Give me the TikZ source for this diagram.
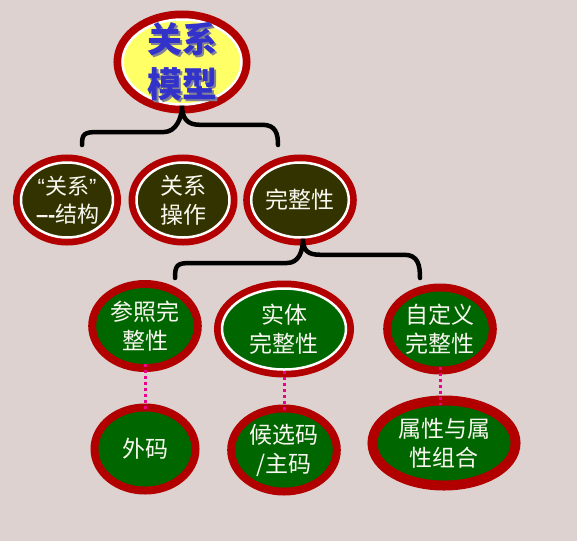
\documentclass[tikz,border=0pt]{standalone}
\usepackage{fontspec}
\newfontfamily\cjk{Noto Sans CJK SC}
\newfontfamily\latin{Liberation Sans}
\usetikzlibrary{shapes.geometric,calc}
\definecolor{bgcol}{RGB}{221,210,208}
\definecolor{ringred}{RGB}{178,0,0}
\definecolor{olive}{RGB}{51,51,0}
\definecolor{leafgreen}{RGB}{0,102,0}
\definecolor{topyellow}{RGB}{255,255,102}
\definecolor{topblue}{RGB}{51,51,204}
\definecolor{topshadowcol}{RGB}{130,130,150}
\definecolor{offwhite}{RGB}{248,248,240}
\tikzset{
  ell/.style={ellipse, inner sep=0pt, align=center, text=offwhite,
    font=\cjk\fontsize{23}{29}\selectfont},
  ringw/.style={ell, draw=white, line width=2.5pt,
    preaction={draw=ringred, line width=16pt}},
  ringn/.style={ell, draw=none,
    preaction={draw=ringred, line width=16pt}},
  bracepath/.style={draw=black, line width=4.5pt, line cap=round},
  dotlink/.style={draw=magenta, line width=3pt, dash pattern=on 3pt off 3pt},
}
\begin{document}
\begin{tikzpicture}[x=1pt,y=-1pt]
\fill[bgcol] (0,0) rectangle (577,541);
\useasboundingbox (0,0) rectangle (577,541);
% top node
\node[ell, draw=white, line width=2.5pt, fill=topyellow,
  preaction={draw=ringred, line width=18pt},
  minimum width=119pt, minimum height=85pt] (top) at (182,62) {};
\node[font=\cjk\bfseries\fontsize{35}{45}\selectfont, align=center, text=topshadowcol, inner sep=0pt] (topshadow) at (184,64) {关系\\模型};
\node[font=\cjk\bfseries\fontsize{35}{45}\selectfont, align=center, text=topblue, inner sep=0pt] (toptext) at (182,62) {关系\\模型};
% row 2
\node[ringw, fill=olive, font=\cjk\fontsize{22}{28}\selectfont, text width=62pt,
  minimum width=92pt, minimum height=75pt] (r2a) at (67,200) {\mbox{{\latin “}关系{\latin ”}}\\\mbox{{\latin\bfseries –-}结构}};
\node[ringw, fill=olive, minimum width=93pt, minimum height=75pt] (r2b) at (183,200) {关系\\操作};
\node[ringw, fill=olive, minimum width=93pt, minimum height=75pt] (r2c) at (300,200) {完整性};
% row 3
\node[ringn, fill=leafgreen, minimum width=93pt, minimum height=76pt] (r3a) at (145,326) {参照完\\整性};
\node[ringw, fill=leafgreen, minimum width=124pt, minimum height=81pt] (r3b) at (284,329) {实体\\完整性};
\node[ringn, fill=leafgreen, minimum width=93pt, minimum height=75pt] (r3c) at (440,329) {自定义\\完整性};
% row 4
\node[ringn, fill=leafgreen, minimum width=93pt, minimum height=75pt] (r4a) at (145,449) {外码};
\node[ringn, fill=leafgreen, minimum width=93pt, minimum height=75pt] (r4b) at (284,450) {候选码\\/主码};
\node[ell, fill=leafgreen, preaction={draw=ringred, line width=20pt},
  minimum width=133pt, minimum height=75pt] (r4c) at (444,443) {属性与属\\性组合};
% braces
\coordinate (b1l) at (82,145);
\coordinate (b1r) at (278,145);
\coordinate (b2l) at (175,278);
\coordinate (b2r) at (420,278);
\coordinate (b2t) at ($(r2c.south)+(3,0)$);
\path[bracepath] (b1l) .. controls ++(0,-11) and ++(-14,0) .. ++(16,-13) -- ++(66,0)
  .. controls ++(12,0) and ++(0,12) .. (top.south)
  .. controls ++(0,12) and ++(-12,0) .. ++(17,19) -- ++(63,0)
  .. controls ++(14,0) and ++(0,-11) .. (b1r);
\path[bracepath] (b2l) .. controls ++(0,-13) and ++(-14,0) .. ++(16,-15) -- ++(96,0)
  .. controls ++(12,0) and ++(0,12) .. (b2t)
  .. controls ++(0,12) and ++(-12,0) .. ++(17,16) -- ++(84,0)
  .. controls ++(14,0) and ++(0,-13) .. (b2r);
% dotted links
\path[dotlink] (r3a.south) -- (r4a.north);
\path[dotlink] (r3b.south) -- (r4b.north);
\path[dotlink] (r3c.south) -- (r3c.south |- r4c.north);
\end{tikzpicture}
\end{document}
